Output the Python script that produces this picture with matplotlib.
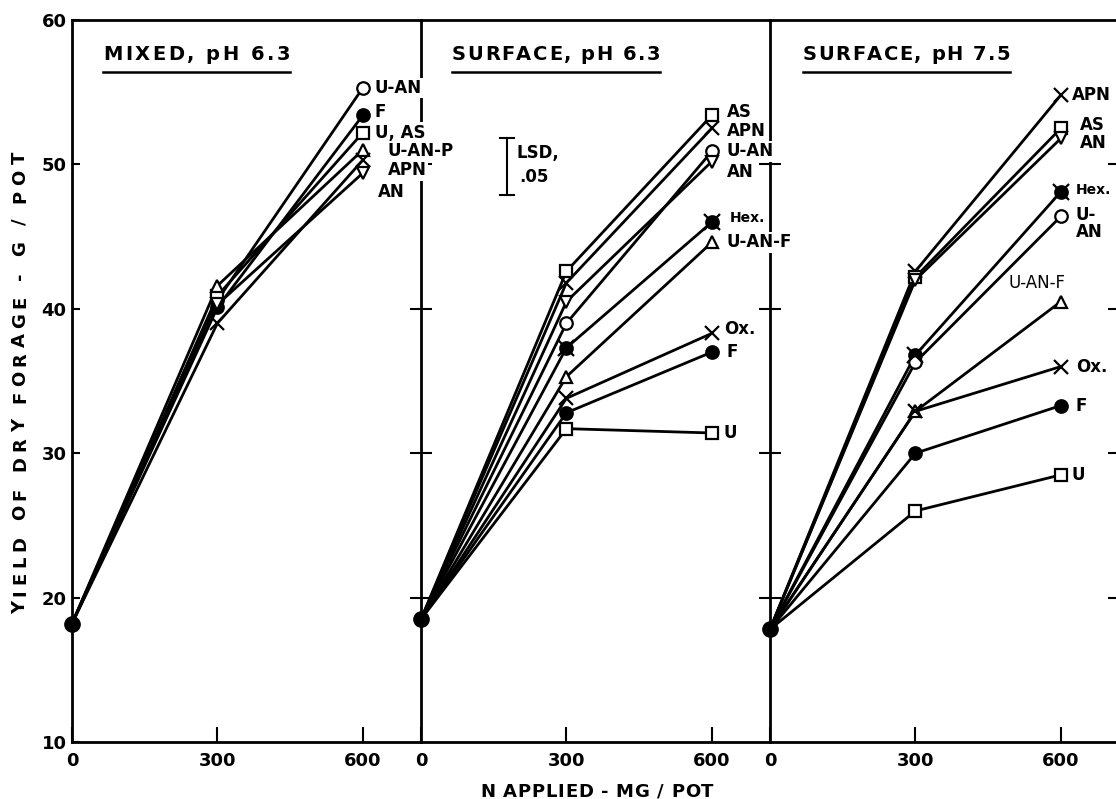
import matplotlib.pyplot as plt
from matplotlib.font_manager import FontProperties
from matplotlib.lines import Line2D

plt.rcParams['font.family'] = ['DejaVu Sans']

# N applied, mg / pot
n_applied = [0, 300, 600]

# Mixed, pH 6.3
mixed_names = ["U-AN", "F", "U, AS", "U-AN-P", "APN", "AN"]
mixed_zero = 18.2
mixed_300 = [40.6, 40.1, 40.9, 41.6, 39.0, 40.3]
mixed_600 = [55.3, 53.4, 52.2, 51.0, 50.3, 49.4]

# Surface, pH 6.3
surf63_names = ["AS", "APN", "U-AN", "AN", "Hex.", "U-AN-F", "Ox.", "F", "U"]
surf63_zero = 18.5
surf63_300 = [42.6, 41.8, 39.0, 40.5, 37.3, 35.3, 33.8, 32.8, 31.7]
surf63_600 = [53.4, 52.5, 50.9, 50.2, 46.0, 44.6, 38.3, 37.0, 31.4]

# Surface, pH 7.5
surf75_names = ["APN", "AS", "AN", "Hex.", "U-AN", "U-AN-F", "Ox.", "F", "U"]
surf75_zero = 17.8
surf75_300 = [42.6, 42.2, 42.0, 36.8, 36.3, 32.9, 32.9, 30.0, 26.0]
surf75_600 = [54.8, 52.5, 51.8, 48.1, 46.4, 40.5, 36.0, 33.3, 28.5]

titles = ["MIXED, pH 6.3", "SURFACE, pH 6.3", "SURFACE, pH 7.5"]
x_label = "N APPLIED - MG / POT"
y_label = "YIELD OF DRY FORAGE - G / POT"

# LSD .05 bar (panel 2)
lsd_low, lsd_high = 47.9, 51.8

# label placement (x, y) in data units
mixed_lab = [(625, 55.3), (625, 53.6), (625, 52.2), (651, 50.9), (651, 49.6), (631, 48.1)]
surf63_lab = [(631, 53.6), (631, 52.3), (631, 50.9), (631, 49.5), (637, 46.3),
              (631, 44.6), (625, 38.6), (631, 37.0), (625, 31.4)]
surf75_lab = [(623, 54.8), (640, 52.7), (640, 51.5), (631, 48.2), (631, 45.9),
              (550, 41.8), (631, 36.0), (631, 33.3), (623, 28.5)]

MARKERS = {
    "U-AN": dict(marker="o", mfc="white"),
    "F": dict(marker="o", mfc="black"),
    "U, AS": dict(marker="s", mfc="white"),
    "AS": dict(marker="s", mfc="white"),
    "U": dict(marker="s", mfc="white"),
    "U-AN-P": dict(marker="^", mfc="white"),
    "U-AN-F": dict(marker="^", mfc="white"),
    "APN": dict(marker="x", mfc="black"),
    "Ox.": dict(marker="x", mfc="black"),
    "AN": dict(marker="v", mfc="white"),
    "Hex.": dict(marker="o", mfc="black"),
}

W, H = 1116, 799
fig = plt.figure(figsize=(W / 100, H / 100), dpi=100)
left_px, width_px = 72, 349
bottom = 1 - 742 / H
height = (742 - 20) / H


def spaced_text(x, y, s, size, total, rotation=0, weight="bold"):
    """Letter-spaced text centred on pixel x (baseline y), spread to `total` px."""
    r = fig.canvas.get_renderer()
    prop = FontProperties(family="DejaVu Sans", size=size, weight=weight)
    widths = [r.get_text_width_height_descent(c, prop, ismath=False)[0] for c in s]
    gap = (total - sum(widths)) / (len(s) - 1)
    pos = -total / 2
    for c, w in zip(s, widths):
        mid = pos + w / 2
        if rotation == 0:
            fig.text((x + mid) / W, 1 - y / H, c, fontproperties=prop,
                     ha="center", va="baseline")
        else:
            fig.text(x / W, 1 - (y - mid) / H, c, fontproperties=prop,
                     rotation=90, rotation_mode="anchor", ha="center", va="baseline")
        pos += w + gap


axes = []
for i in range(3):
    ax = fig.add_axes([(left_px + i * width_px) / W, bottom, width_px / W, height])
    ax.set_zorder(3 - i)
    ax.patch.set_visible(False)
    axes.append(ax)

panels = [
    (mixed_names, mixed_zero, mixed_300, mixed_600, mixed_lab),
    (surf63_names, surf63_zero, surf63_300, surf63_600, surf63_lab),
    (surf75_names, surf75_zero, surf75_300, surf75_600, surf75_lab),
]

for i, (ax, (names, y0, y300, y600, labs)) in enumerate(zip(axes, panels)):
    for name, a, b in zip(names, y300, y600):
        ys = [y0, a, b]
        st = MARKERS[name]
        ax.plot(n_applied, ys, color="black", lw=2, zorder=2)
        ms = 9 if st["marker"] != "x" else 10
        ax.plot(n_applied[1:], ys[1:], ls="none", marker=st["marker"], ms=ms,
                mfc=st["mfc"], mec="black", mew=1.6, zorder=4)
        if name == "Hex.":
            ax.plot(n_applied[1:], ys[1:], ls="none", marker="x", ms=12,
                    mec="black", mew=1.6, zorder=5)
    ax.plot([0], [y0], ls="none", marker="o", ms=11, mfc="black", mec="black",
            zorder=5, clip_on=False)

    for name, (lx, ly) in zip(names, labs):
        s = name
        if i == 2 and name == "U-AN":
            s = "U-\nAN"
        fs = 10 if name == "Hex." else 12
        kw = dict(ha="left", va="center", fontsize=fs, fontweight="bold",
                  linespacing=0.9, zorder=6)
        if i == 2 and name == "U-AN-F":
            kw.update(ha="center", fontweight="normal", fontsize=12)
        if i < 2:
            kw["bbox"] = dict(fc="white", ec="none", pad=1.0)
        ax.text(lx, ly, s, **kw)

    ax.set_xlim(0, 720)
    ax.set_ylim(10, 60)
    ax.set_xticks([0, 300, 600])
    ax.set_xticklabels(["0", "300", "600"], fontsize=13, fontweight="bold")
    ax.tick_params(axis="x", direction="in", length=11, width=1.5, pad=7)
    for sp in ax.spines.values():
        sp.set_linewidth(2)
    ax.spines["right"].set_visible(i == 2)
    if i == 0:
        ax.set_yticks([10, 20, 30, 40, 50, 60])
        ax.tick_params(axis="y", direction="in", length=6, width=1.5,
                       labelsize=13, pad=4)
        for lab in ax.get_yticklabels():
            lab.set_fontweight("bold")
    else:
        ax.set_yticks([20, 30, 40, 50])
        ax.tick_params(axis="y", direction="inout", length=16, width=1.5,
                       labelleft=False, right=(i == 2))

# LSD bar in the middle panel
ax2 = axes[1]
ax2.plot([177, 177], [lsd_low, lsd_high], color="black", lw=1.5)
ax2.plot([162, 192], [lsd_low, lsd_low], color="black", lw=1.5)
ax2.plot([162, 192], [lsd_high, lsd_high], color="black", lw=1.5)
ax2.text(196, 50.8, "LSD,", fontsize=12, fontweight="bold", ha="left", va="center")
ax2.text(202, 49.1, ".05", fontsize=12, fontweight="bold", ha="left", va="center")

fig.canvas.draw()

# panel titles, letter-spaced and underlined
title_left = [103, 452, 803]
title_width = [187, 208, 207]
for x0, w, s in zip(title_left, title_width, titles):
    spaced_text(x0 + w / 2, 60, s, 14, w)
    fig.add_artist(Line2D([x0 / W, (x0 + w) / W], [1 - 72 / H, 1 - 72 / H],
                          transform=fig.transFigure, color="black", lw=1.8))

spaced_text(25, 383, y_label, 13, 462, rotation=90)
spaced_text(597, 797, x_label, 13, 233)

fig.savefig("out.png", dpi=100)
